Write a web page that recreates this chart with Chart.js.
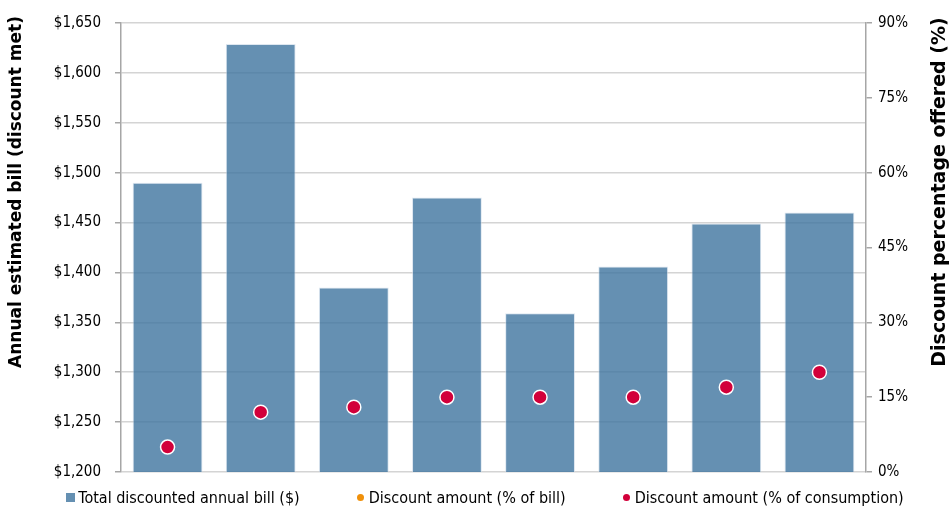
<!DOCTYPE html>
<html>
<head>
<meta charset="utf-8">
<script src="https://cdn.jsdelivr.net/npm/chart.js@4/dist/chart.umd.min.js"></script>
<style>
  html, body { margin: 0; padding: 0; background: #fff; }
  #wrap { width: 950px; height: 512px; position: relative; }
  #box { position: absolute; left: 0; top: 0; width: 950px; height: 495px; }
  #legend {
    position: absolute; left: 20px; top: 486px; width: 930px; height: 22px;
    display: flex; justify-content: center; align-items: center; gap: 57px;
    font-family: 'DejaVu Sans Condensed', 'DejaVu Sans', sans-serif; font-size: 16px; color: #000;
  }
  #legend .item { display: flex; align-items: center; white-space: nowrap; }
  #legend .sq { width: 9px; height: 9px; margin-right: 3px; }
  #legend .dot { width: 7px; height: 7px; border-radius: 50%; margin-right: 5px; }
</style>
</head>
<body>
<div id="wrap">
  <div id="box"><canvas id="chart"></canvas></div>
  <div id="legend"></div>
</div>
<script>
  /* ── Data ─────────────────────────────────────────────── */
  const categories = ['1', '2', '3', '4', '5', '6', '7', '8'];
  const billValues = [1490, 1629, 1385, 1475, 1359, 1406, 1449, 1460];
  const pctOfBill = [null, null, null, null, null, null, null, null];
  const pctOfConsumption = [5, 12, 13, 15, 15, 15, 17, 20];
  const leftTicks = [1200, 1250, 1300, 1350, 1400, 1450, 1500, 1550, 1600, 1650];
  const rightTicks = [0, 15, 30, 45, 60, 75, 90];

  const FONT = "'DejaVu Sans Condensed', 'DejaVu Sans', sans-serif";
  const TITLE_FONT = "'DejaVu Sans', sans-serif";
  const GRID = '#d4d4d4';
  const AXIS = '#a6a6a6';
  const BAR = 'rgba(63,116,159,0.8)';
  const ORANGE = '#f0900a';
  const RED = '#d2003a';

  /* Rotated axis titles (both read bottom-to-top) */
  const axisTitles = {
    id: 'axisTitles',
    afterDraw(chart) {
      const ctx = chart.ctx;
      const items = [
        { text: 'Annual estimated bill (discount met)', x: 17, size: 17 },
        { text: 'Discount percentage offered (%)', x: 940, size: 19 },
      ];
      ctx.save();
      ctx.fillStyle = '#000';
      ctx.textAlign = 'center';
      ctx.textBaseline = 'middle';
      items.forEach(t => {
        ctx.save();
        ctx.translate(t.x, 192);
        ctx.rotate(-Math.PI / 2);
        ctx.font = `bold ${t.size}px ${TITLE_FONT}`;
        ctx.fillText(t.text, 0, 0);
        ctx.restore();
      });
      ctx.restore();
    },
  };

  const chart = new Chart(document.getElementById('chart'), {
    type: 'bar',
    data: {
      labels: categories,
      datasets: [
        {
          type: 'scatter',
          label: 'Discount amount (% of consumption)',
          data: pctOfConsumption,
          yAxisID: 'y2',
          backgroundColor: RED,
          borderColor: '#ffffff',
          borderWidth: 1.5,
          pointRadius: 7,
          order: 0,
        },
        {
          type: 'scatter',
          label: 'Discount amount (% of bill)',
          data: pctOfBill,
          yAxisID: 'y2',
          backgroundColor: ORANGE,
          borderColor: '#ffffff',
          borderWidth: 1.5,
          pointRadius: 7,
          order: 1,
        },
        {
          label: 'Total discounted annual bill ($)',
          data: billValues,
          yAxisID: 'y',
          backgroundColor: BAR,
          borderColor: 'rgba(200,215,230,0.6)',
          borderWidth: 1,
          barPercentage: 0.75,
          categoryPercentage: 1,
          order: 2,
        },
      ],
    },
    options: {
      responsive: true,
      maintainAspectRatio: false,
      animation: false,
      layout: { padding: { top: 16, right: 0, left: 0, bottom: 0 } },
      plugins: {
        legend: { display: false },
        tooltip: { enabled: false },
      },
      scales: {
        x: {
          type: 'category',
          ticks: { display: false },
          grid: { display: false },
          border: { display: false },
          afterFit: s => { s.height = 7; },
        },
        y: {
          position: 'left',
          min: 1200,
          max: 1650,
          afterBuildTicks: s => { s.ticks = leftTicks.map(v => ({ value: v })); },
          afterFit: s => { s.width = 121; },
          ticks: {
            color: '#000',
            padding: 14,
            font: { family: FONT, size: 15 },
            callback: v => '$' + v.toLocaleString('en-US'),
          },
          grid: { color: GRID, lineWidth: 1.5, tickLength: 6, tickColor: AXIS },
          border: { color: AXIS, width: 1.5 },
        },
        y2: {
          position: 'right',
          min: 0,
          max: 90,
          afterBuildTicks: s => { s.ticks = rightTicks.map(v => ({ value: v })); },
          afterFit: s => { s.width = 84; },
          ticks: {
            color: '#000',
            padding: 6,
            font: { family: FONT, size: 15 },
            callback: v => v + '%',
          },
          grid: { drawOnChartArea: false, tickLength: 6, tickColor: AXIS, lineWidth: 1.5 },
          border: { color: AXIS, width: 1.5 },
        },
      },
    },
    plugins: [axisTitles],
  });

  /* ── HTML legend ──────────────────────────────────────── */
  const legendEl = document.getElementById('legend');
  [2, 1, 0].forEach(i => {
    const ds = chart.data.datasets[i];
    const item = document.createElement('div');
    item.className = 'item';
    const mark = document.createElement('span');
    mark.className = ds.type === 'scatter' ? 'dot' : 'sq';
    mark.style.background = ds.backgroundColor;
    const label = document.createElement('span');
    label.textContent = ds.label;
    item.appendChild(mark);
    item.appendChild(label);
    legendEl.appendChild(item);
  });
</script>
</body>
</html>
